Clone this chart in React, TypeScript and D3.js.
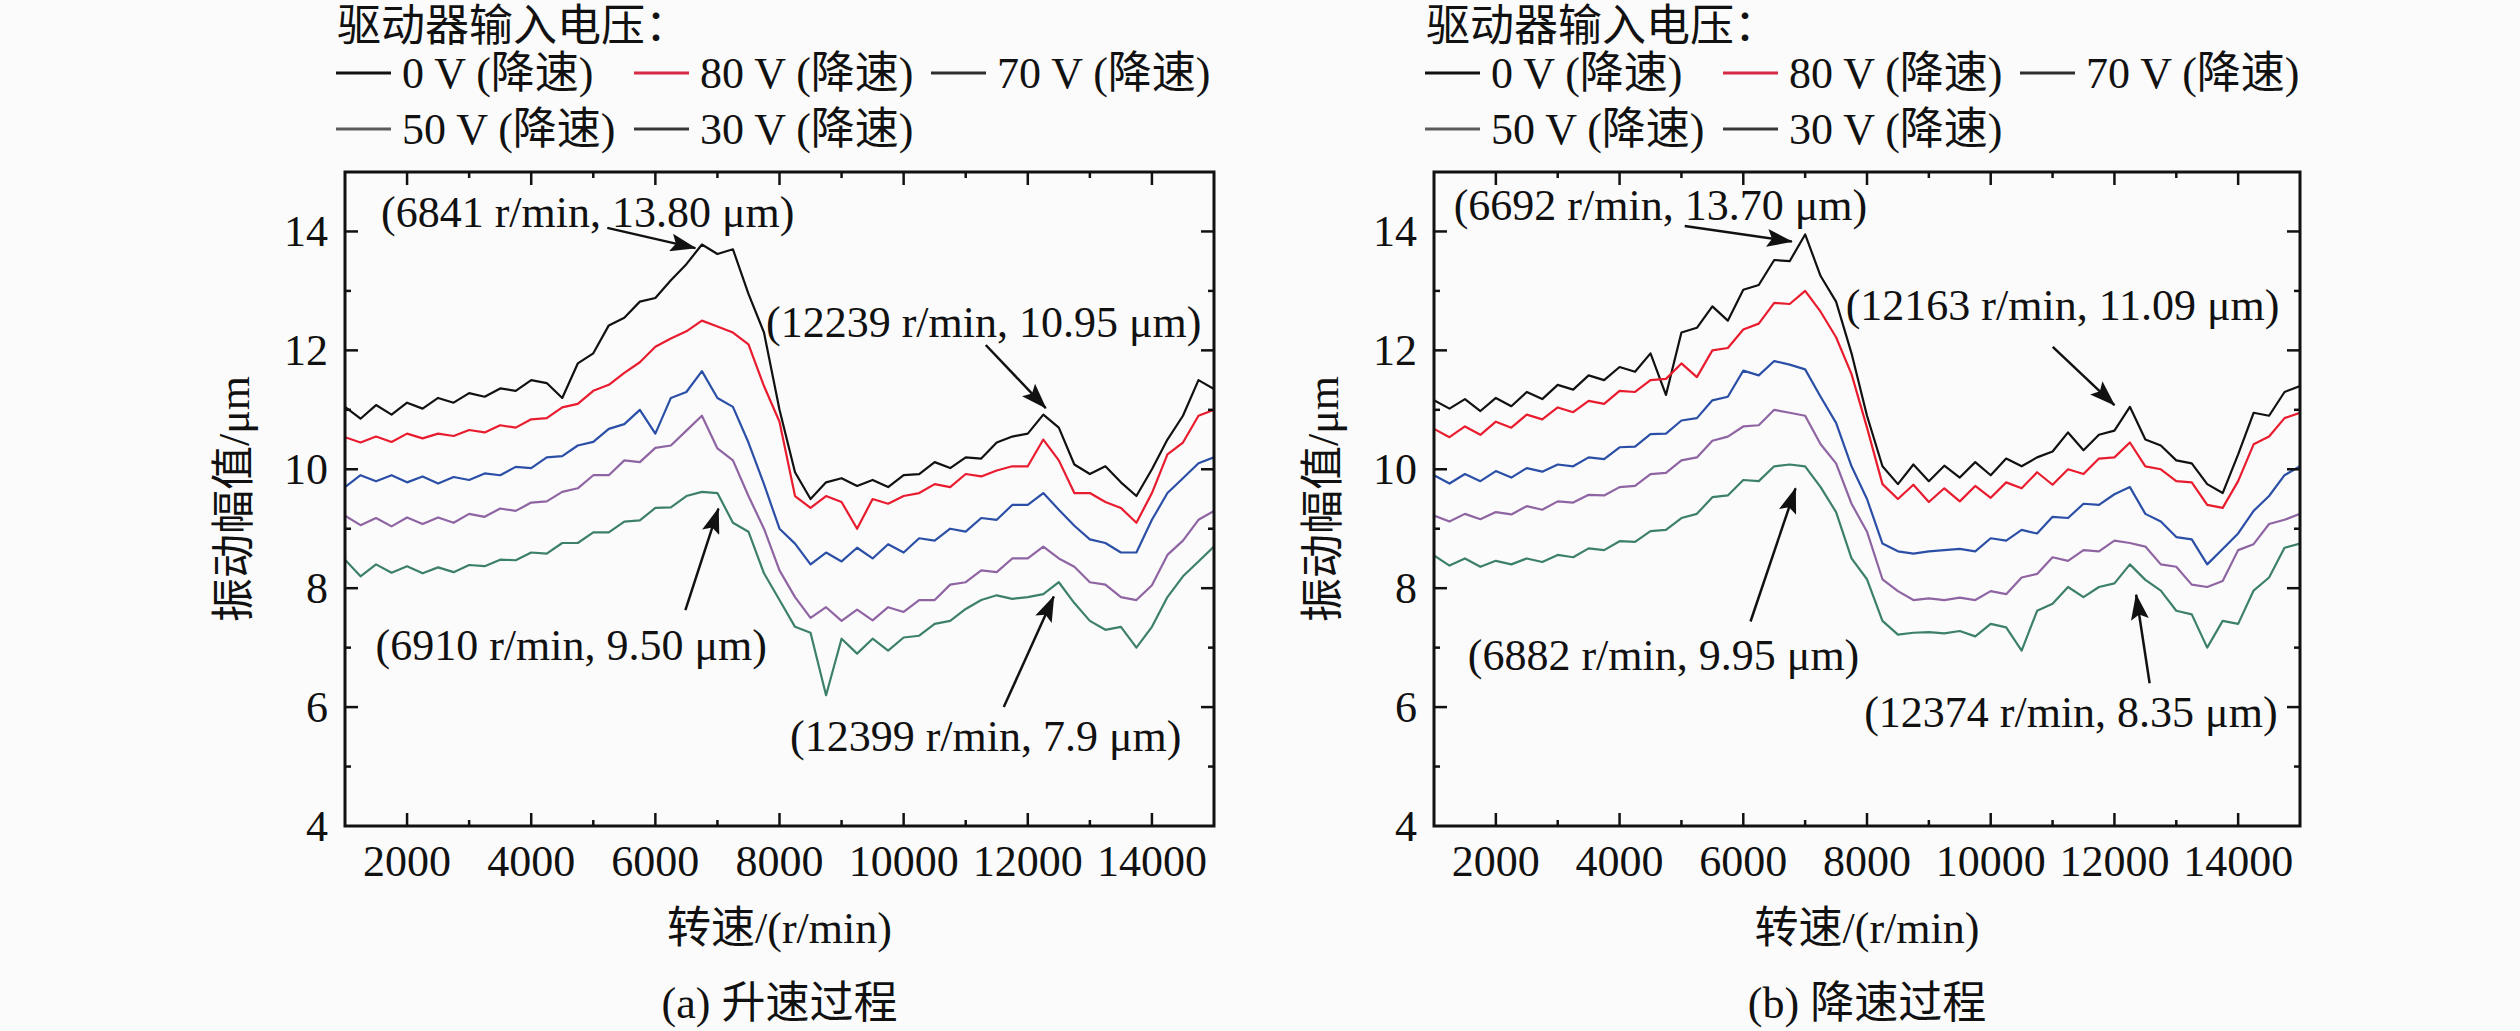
import React, { useRef, useEffect } from 'react';
import * as d3 from 'd3';

const WIDTH = 2520;
const HEIGHT = 1031;

// rotational speed grid (r/min) shared by every curve
const speeds = d3.range(1000, 15001, 250);

const seriesNames = ['0 V (降速)', '80 V (降速)', '70 V (降速)', '50 V (降速)', '30 V (降速)'];
const lineColors = ['#111111', '#e81c2e', '#2b4fa6', '#8f64a2', '#3d8069'];
const legendColors = ['#111111', '#d62a45', '#2e2e2e', '#5c5c5c', '#383838'];

const xMajor = [2000, 4000, 6000, 8000, 10000, 12000, 14000];
const xMinor = [3000, 5000, 7000, 9000, 11000, 13000];
const yMajor = [4, 6, 8, 10, 12, 14];
const yMinor = [5, 7, 9, 11, 13];

// (a) run-up, vibration amplitude in μm
const upV0 = [
    11.05, 10.85, 11.08, 10.92, 11.12, 11.02, 11.2, 11.12,
    11.28, 11.22, 11.36, 11.32, 11.5, 11.45, 11.2, 11.78,
    11.95, 12.42, 12.55, 12.82, 12.88, 13.18, 13.45, 13.78,
    13.62, 13.7, 12.95, 12.3, 11.0, 9.95, 9.5, 9.78,
    9.85, 9.72, 9.82, 9.7, 9.9, 9.92, 10.12, 10.02,
    10.2, 10.18, 10.45, 10.55, 10.6, 10.92, 10.7, 10.08,
    9.92, 10.05, 9.78, 9.55, 10.0, 10.5, 10.9, 11.5,
    11.35,
];
const upV80 = [
    10.54, 10.45, 10.55, 10.46, 10.6, 10.52, 10.6, 10.56,
    10.66, 10.62, 10.74, 10.7, 10.84, 10.86, 11.04, 11.1,
    11.32, 11.42, 11.62, 11.8, 12.06, 12.2, 12.32, 12.5,
    12.4, 12.3, 12.1, 11.4, 10.8, 9.55, 9.35, 9.55,
    9.45, 9.0, 9.5, 9.42, 9.55, 9.6, 9.75, 9.7,
    9.92, 9.88, 9.98, 10.05, 10.05, 10.5, 10.15, 9.6,
    9.6, 9.45, 9.35, 9.1, 9.6, 10.25, 10.45, 10.9,
    11.0,
];
const upV70 = [
    9.7, 9.9, 9.8, 9.9, 9.78, 9.88, 9.76, 9.87,
    9.82, 9.93, 9.9, 10.04, 10.02, 10.2, 10.22, 10.4,
    10.46, 10.68, 10.76, 11.0, 10.6, 11.2, 11.3, 11.65,
    11.2, 11.05, 10.45, 9.75, 9.0, 8.75, 8.4, 8.6,
    8.45, 8.68, 8.5, 8.74, 8.6, 8.84, 8.8, 9.0,
    8.95, 9.18, 9.15, 9.4, 9.4, 9.6, 9.32, 9.05,
    8.82, 8.76, 8.6, 8.6, 9.15, 9.6, 9.85, 10.1,
    10.2,
];
const upV50 = [
    9.22, 9.06, 9.18, 9.04, 9.19, 9.08, 9.19, 9.1,
    9.25, 9.2, 9.34, 9.3, 9.44, 9.46, 9.62, 9.68,
    9.9, 9.9, 10.15, 10.12, 10.36, 10.4, 10.65, 10.9,
    10.35, 10.15, 9.55, 9.0, 8.3, 7.85, 7.5, 7.68,
    7.45, 7.64, 7.46, 7.68, 7.6, 7.8, 7.8, 8.06,
    8.1, 8.3, 8.27, 8.5, 8.5, 8.7, 8.5, 8.36,
    8.1, 8.06, 7.85, 7.8, 8.05, 8.56, 8.8, 9.15,
    9.3,
];
const upV30 = [
    8.48, 8.2, 8.4, 8.26, 8.37, 8.25, 8.35, 8.27,
    8.39, 8.37, 8.48, 8.47, 8.6, 8.58, 8.76, 8.76,
    8.94, 8.94, 9.12, 9.14, 9.35, 9.36, 9.55, 9.62,
    9.6, 9.1, 8.95, 8.25, 7.8, 7.35, 7.25, 6.2,
    7.15, 6.9, 7.15, 6.95, 7.17, 7.2, 7.4, 7.45,
    7.65, 7.8, 7.88, 7.82, 7.85, 7.9, 8.1, 7.75,
    7.45, 7.3, 7.35, 7.0, 7.35, 7.85, 8.2, 8.45,
    8.7,
];

// (b) run-down, vibration amplitude in μm
const downV0 = [
    11.16, 11.02, 11.18, 10.98, 11.2, 11.06, 11.3, 11.18,
    11.42, 11.34, 11.58, 11.5, 11.72, 11.64, 11.95, 11.25,
    12.3, 12.38, 12.74, 12.5, 13.02, 13.1, 13.52, 13.5,
    13.95, 13.25, 12.82, 11.95, 10.9, 10.05, 9.75, 10.08,
    9.8, 10.06, 9.86, 10.12, 9.9, 10.18, 10.05, 10.2,
    10.3, 10.62, 10.32, 10.58, 10.65, 11.05, 10.5, 10.4,
    10.15, 10.1, 9.75, 9.6, 10.25, 10.95, 10.9, 11.3,
    11.4,
];
const downV80 = [
    10.68, 10.54, 10.72, 10.58, 10.8, 10.7, 10.92, 10.84,
    11.04, 10.96, 11.15, 11.1, 11.32, 11.3, 11.5, 11.52,
    11.78, 11.55, 12.0, 12.04, 12.35, 12.45, 12.8, 12.78,
    13.0, 12.65, 12.22, 11.6, 10.7, 9.75, 9.5, 9.74,
    9.45, 9.68, 9.46, 9.72, 9.52, 9.78, 9.68, 9.95,
    9.74, 10.0, 9.92, 10.18, 10.2, 10.45, 10.05, 10.0,
    9.8, 9.78, 9.4, 9.35, 9.8, 10.42, 10.55, 10.86,
    10.95,
];
const downV70 = [
    9.9, 9.76, 9.92, 9.8, 9.97, 9.86, 10.02, 9.96,
    10.08, 10.05, 10.2, 10.17, 10.37, 10.38, 10.59, 10.6,
    10.82, 10.86, 11.16, 11.22, 11.66, 11.58, 11.82, 11.76,
    11.68, 11.22, 10.78, 10.05, 9.5, 8.75, 8.62, 8.58,
    8.62, 8.64, 8.66, 8.62, 8.84, 8.8, 8.98, 8.92,
    9.2, 9.18, 9.42, 9.4, 9.58, 9.7, 9.25, 9.12,
    8.86, 8.82, 8.4, 8.66, 8.92, 9.3, 9.55, 9.9,
    10.05,
];
const downV50 = [
    9.22, 9.12, 9.25, 9.16, 9.28, 9.24, 9.38, 9.32,
    9.46, 9.44, 9.57, 9.56, 9.7, 9.72, 9.92, 9.94,
    10.15, 10.2, 10.48, 10.55, 10.72, 10.74, 11.0, 10.95,
    10.9, 10.42, 10.1, 9.42, 8.95, 8.15, 7.95, 7.8,
    7.83, 7.8, 7.84, 7.8, 7.95, 7.9, 8.18, 8.24,
    8.52, 8.46, 8.64, 8.62, 8.8, 8.76, 8.7, 8.4,
    8.36, 8.06, 8.02, 8.12, 8.64, 8.74, 9.08, 9.15,
    9.25,
];
const downV30 = [
    8.55, 8.38, 8.5, 8.36, 8.46, 8.4, 8.5, 8.44,
    8.56, 8.52, 8.67, 8.64, 8.79, 8.78, 8.96, 8.98,
    9.18, 9.25, 9.53, 9.56, 9.82, 9.8, 10.05, 10.08,
    10.05, 9.7, 9.28, 8.5, 8.15, 7.45, 7.22, 7.25,
    7.26, 7.24, 7.28, 7.19, 7.4, 7.34, 6.95, 7.62,
    7.74, 8.02, 7.85, 8.02, 8.08, 8.4, 8.14, 7.96,
    7.62, 7.56, 7.0, 7.45, 7.4, 7.96, 8.18, 8.68,
    8.75,
];

// annotations: label centre, arrow tail and arrow tip, in data units
interface Note {
    text: string;
    label: [number, number];
    tail: [number, number];
    tip: [number, number];
}

const upNotes: Note[] = [
    { text: '(6841 r/min, 13.80 μm)', label: [4911, 14.33], tail: [5226, 14.06], tip: [6645, 13.72] },
    { text: '(12239 r/min, 10.95 μm)', label: [11290, 12.48], tail: [11323, 12.09], tip: [12290, 11.03] },
    { text: '(6910 r/min, 9.50 μm)', label: [4645, 7.05], tail: [6484, 7.63], tip: [7016, 9.34] },
    { text: '(12399 r/min, 7.9 μm)', label: [11323, 5.51], tail: [11613, 6.0], tip: [12419, 7.86] },
];

const downNotes: Note[] = [
    { text: '(6692 r/min, 13.70 μm)', label: [4660, 14.45], tail: [5053, 14.09], tip: [6785, 13.83] },
    { text: '(12163 r/min, 11.09 μm)', label: [11162, 12.76], tail: [11003, 12.06], tip: [12000, 11.08] },
    { text: '(6882 r/min, 9.95 μm)', label: [4711, 6.88], tail: [6117, 7.44], tip: [6845, 9.68] },
    { text: '(12374 r/min, 8.35 μm)', label: [11296, 5.91], tail: [12569, 6.4], tip: [12351, 7.89] },
];

const panels = [
    { id: 'up', left: 345, right: 1214, caption: '(a) 升速过程', series: [upV0, upV80, upV70, upV50, upV30], notes: upNotes },
    { id: 'down', left: 1434, right: 2300, caption: '(b) 降速过程', series: [downV0, downV80, downV70, downV50, downV30], notes: downNotes },
];

const FONT = "'Liberation Serif', 'Times New Roman', 'Noto Sans CJK SC', serif";
const FONT_SIZE = 44;

const App: React.FC = () => {
    const svgRef = useRef<SVGSVGElement | null>(null);

    useEffect(() => {
        if (!svgRef.current) return;
        const svg = d3.select(svgRef.current);
        svg.selectAll('*').remove();

        svg.append('rect')
            .attr('width', WIDTH)
            .attr('height', HEIGHT)
            .attr('fill', '#fbfbfb');

        const defs = svg.append('defs');
        defs.append('marker')
            .attr('id', 'arrow-head')
            .attr('markerUnits', 'userSpaceOnUse')
            .attr('markerWidth', 26)
            .attr('markerHeight', 18)
            .attr('refX', 25)
            .attr('refY', 9)
            .attr('orient', 'auto')
            .append('path')
            .attr('d', 'M0,0 L26,9 L0,18 L5,9 Z')
            .attr('fill', '#111');

        const top = 172;
        const bottom = 826;

        panels.forEach((p) => {
            const x = d3.scaleLinear().domain([1000, 15000]).range([p.left, p.right]);
            const y = d3.scaleLinear().domain([4, 15]).range([bottom, top]);
            const g = svg.append('g').attr('font-family', FONT).attr('font-size', FONT_SIZE).attr('fill', '#111');

            defs.append('clipPath')
                .attr('id', `clip-${p.id}`)
                .append('rect')
                .attr('x', p.left)
                .attr('y', top)
                .attr('width', p.right - p.left)
                .attr('height', bottom - top);

            // curves
            const line = d3
                .line<number>()
                .x((_, i) => x(speeds[i]))
                .y((d) => y(d));

            const curves = g.append('g').attr('clip-path', `url(#clip-${p.id})`);
            p.series.forEach((values, k) => {
                curves.append('path')
                    .attr('d', line(values) || '')
                    .attr('fill', 'none')
                    .attr('stroke', lineColors[k])
                    .attr('stroke-width', 2.2)
                    .attr('stroke-linejoin', 'round');
            });

            // frame
            g.append('rect')
                .attr('x', p.left)
                .attr('y', top)
                .attr('width', p.right - p.left)
                .attr('height', bottom - top)
                .attr('fill', 'none')
                .attr('stroke', '#111')
                .attr('stroke-width', 3);

            // inward ticks on all four sides
            const ticks = g.append('g').attr('stroke', '#111').attr('stroke-width', 2.5);
            const xTick = (v: number, len: number) => {
                ticks.append('line').attr('x1', x(v)).attr('x2', x(v)).attr('y1', bottom).attr('y2', bottom - len);
                ticks.append('line').attr('x1', x(v)).attr('x2', x(v)).attr('y1', top).attr('y2', top + len);
            };
            const yTick = (v: number, len: number) => {
                ticks.append('line').attr('y1', y(v)).attr('y2', y(v)).attr('x1', p.left).attr('x2', p.left + len);
                ticks.append('line').attr('y1', y(v)).attr('y2', y(v)).attr('x1', p.right).attr('x2', p.right - len);
            };
            xMajor.forEach((v) => xTick(v, 13));
            xMinor.forEach((v) => xTick(v, 6));
            yMajor.filter((v) => v > 4).forEach((v) => yTick(v, 13));
            yMinor.forEach((v) => yTick(v, 6));

            // tick labels
            g.selectAll(null)
                .data(xMajor)
                .enter()
                .append('text')
                .attr('x', (d) => x(d))
                .attr('y', bottom + 50)
                .attr('text-anchor', 'middle')
                .text((d) => d);

            g.selectAll(null)
                .data(yMajor)
                .enter()
                .append('text')
                .attr('x', p.left - 17)
                .attr('y', (d) => y(d) + 15)
                .attr('text-anchor', 'end')
                .text((d) => d);

            const mid = (p.left + p.right) / 2;

            // axis titles and caption
            g.append('text')
                .attr('x', mid)
                .attr('y', 943)
                .attr('text-anchor', 'middle')
                .text('转速/(r/min)');

            g.append('text')
                .attr('transform', `translate(${p.left - 96},${(top + bottom) / 2}) rotate(-90)`)
                .attr('text-anchor', 'middle')
                .text('振动幅值/μm');

            g.append('text')
                .attr('x', mid)
                .attr('y', 1018)
                .attr('text-anchor', 'middle')
                .text(p.caption);

            // legend
            g.append('text')
                .attr('x', p.left - 8)
                .attr('y', 41)
                .text('驱动器输入电压：');

            const slots = [
                [p.left - 9, 73],
                [p.left + 289, 73],
                [p.left + 586, 73],
                [p.left - 9, 129],
                [p.left + 289, 129],
            ];
            seriesNames.forEach((name, k) => {
                const [lx, ly] = slots[k];
                g.append('line')
                    .attr('x1', lx)
                    .attr('x2', lx + 55)
                    .attr('y1', ly)
                    .attr('y2', ly)
                    .attr('stroke', legendColors[k])
                    .attr('stroke-width', 3);
                g.append('text')
                    .attr('x', lx + 66)
                    .attr('y', ly + 15)
                    .text(name);
            });

            // annotations with arrows
            p.notes.forEach((n) => {
                g.append('line')
                    .attr('x1', x(n.tail[0]))
                    .attr('y1', y(n.tail[1]))
                    .attr('x2', x(n.tip[0]))
                    .attr('y2', y(n.tip[1]))
                    .attr('stroke', '#111')
                    .attr('stroke-width', 2.5)
                    .attr('marker-end', 'url(#arrow-head)');
                g.append('text')
                    .attr('x', x(n.label[0]))
                    .attr('y', y(n.label[1]) + 15)
                    .attr('text-anchor', 'middle')
                    .text(n.text);
            });
        });
    }, []);

    return (
        <svg
            ref={svgRef}
            width={WIDTH}
            height={HEIGHT}
            style={{ position: 'absolute', left: 0, top: 0, display: 'block' }}
        ></svg>
    );
};

export default App;
